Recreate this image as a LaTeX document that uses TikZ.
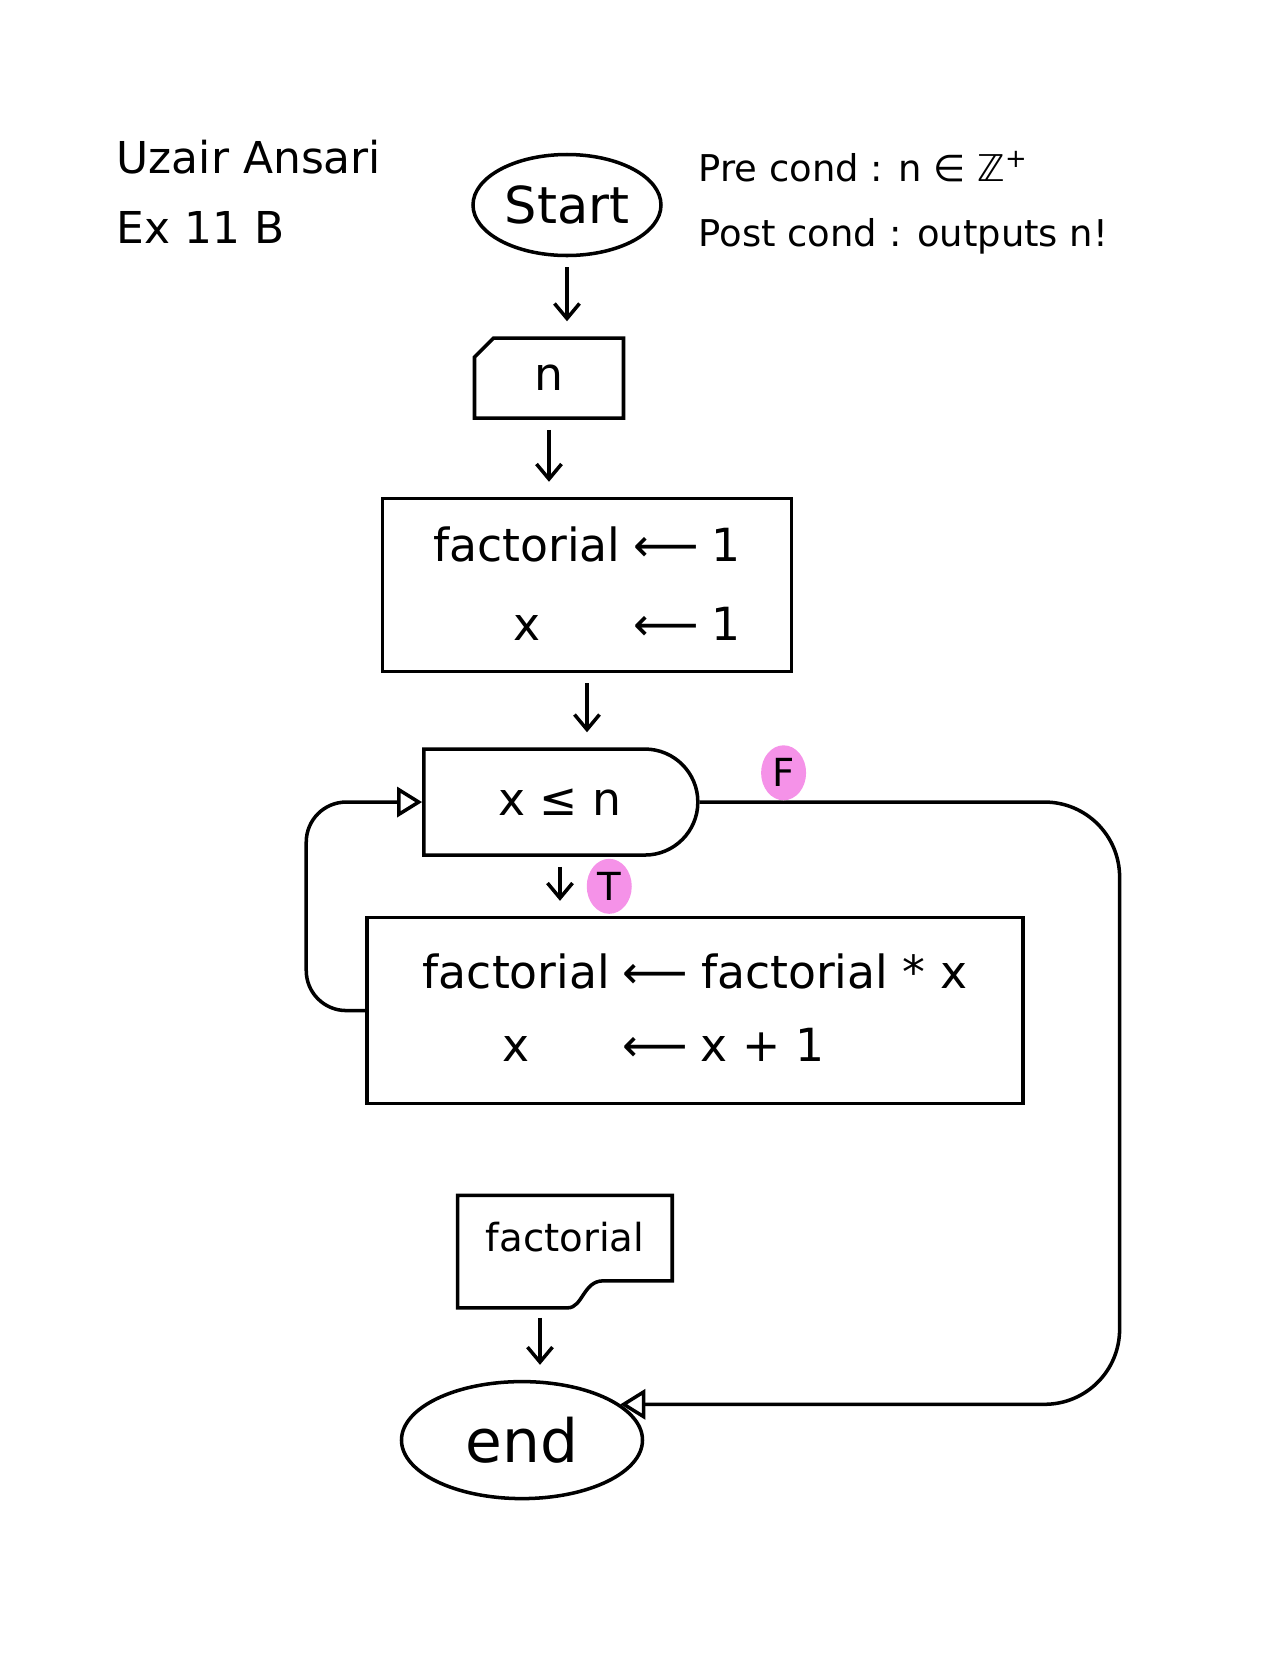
\documentclass[tikz,border=0pt]{standalone}
\usepackage{fontspec}
\setmainfont{DejaVu Sans}
\usetikzlibrary{arrows.meta,positioning,shapes.geometric,shapes.misc}
\definecolor{hilite}{HTML}{F592E8}

\begin{document}
\begin{tikzpicture}[node distance=1.5cm and 1cm,>={Straight Barb[length=3mm,width=5mm]},line width=2pt,
term/.style={draw,ellipse,inner sep=0pt,font=\fontsize{29}{32}\selectfont},
box/.style={draw,rectangle,align=center,inner sep=0pt,font=\fontsize{26}{45}\selectfont},
arrow/.style={->,shorten <=2mm,shorten >=3mm},
back/.style={-{Triangle[open,length=5mm,width=6mm]},rounded corners=8mm},
flag/.style={fill=hilite,ellipse,inner sep=1pt,minimum width=9mm,minimum height=11mm,font=\fontsize{22}{24}\selectfont}]
\useasboundingbox (-11.34,4.10) rectangle (14.16,-29.26);
% header
\node[anchor=north west,align=left,inner sep=0pt,font=\fontsize{25}{40}\selectfont] (author) at (-9.04,1.34) {Uzair Ansari\\Ex 11 B};
\node[anchor=north west,align=left,inner sep=0pt,font=\fontsize{21}{37}\selectfont] (cond) at (2.6,1.1) {Pre cond : n ∈ ℤ\textsuperscript{+}\\Post cond : outputs n!};
% flow
\node[term,minimum width=3.76cm,minimum height=2.02cm] (start) {Start};
\node[box,chamfered rectangle,chamfered rectangle corners=north west,chamfered rectangle xsep=4mm,minimum width=2.98cm,minimum height=1.6cm,below=1.58cm of start,xshift=-3.6mm] (n) {n};
\node[box,minimum width=8.18cm,minimum height=3.46cm,below=1.54cm of n,xshift=7.6mm] (init) {\begin{tabular}{c@{\;}c@{\;}c}factorial & ⟵ & 1\\ x & ⟵ & 1\end{tabular}};
\node[box,rounded rectangle,rounded rectangle left arc=none,minimum width=5.48cm,minimum height=2.12cm,below=1.48cm of init,xshift=-5.4mm] (dec) {x ≤ n};
\node[box,font=\fontsize{26}{41}\selectfont,minimum width=13.12cm,minimum height=3.72cm,below=1.18cm of dec,xshift=2.7cm] (body) {\begin{tabular}{c@{\;}c@{\;}l}factorial & ⟵ & factorial * x\\ x & ⟵ & x + 1\end{tabular}};
\node[box,draw=none,font=\fontsize{22}{26}\selectfont,minimum width=4.22cm,minimum height=2.18cm,text depth=0.6cm,below=1.8cm of body,xshift=-2.6cm] (out) {factorial};
\draw (out.south west) |- (out.north east) -- ([yshift=5.4mm]out.south east) -- ++(-1.38cm,0) .. controls +(-0.4cm,0) and +(0.3cm,0) .. ([xshift=2.2cm]out.south west) -- cycle;
\node[term,font=\fontsize{34}{36}\selectfont,minimum width=4.82cm,minimum height=2.34cm,below=1.44cm of out,xshift=-8.6mm] (end) {end};
\coordinate[left=1.18cm of body.west] (lp);
\coordinate[right=8.4cm of dec.east] (fx);
\draw[arrow] (start.south) -- (start.south |- n.north);
\draw[arrow] (n.south) -- (n.south |- init.north);
\draw[arrow] (init.south) -- (init.south |- dec.north);
\draw[arrow] (dec.south) -- node[flag,midway,right=5mm]{T} (dec.south |- body.north);
\draw[arrow] ([xshift=-5mm]out.south) -- ([xshift=-5mm]out.south |- end.north);
\draw[back] (body.west) -- (lp) |- (dec.west);
\draw[back,rounded corners=1.5cm] (dec.east) -- node[flag,pos=0.2,above=0pt]{F} (fx) |- (end.20);
\end{tikzpicture}
\end{document}
